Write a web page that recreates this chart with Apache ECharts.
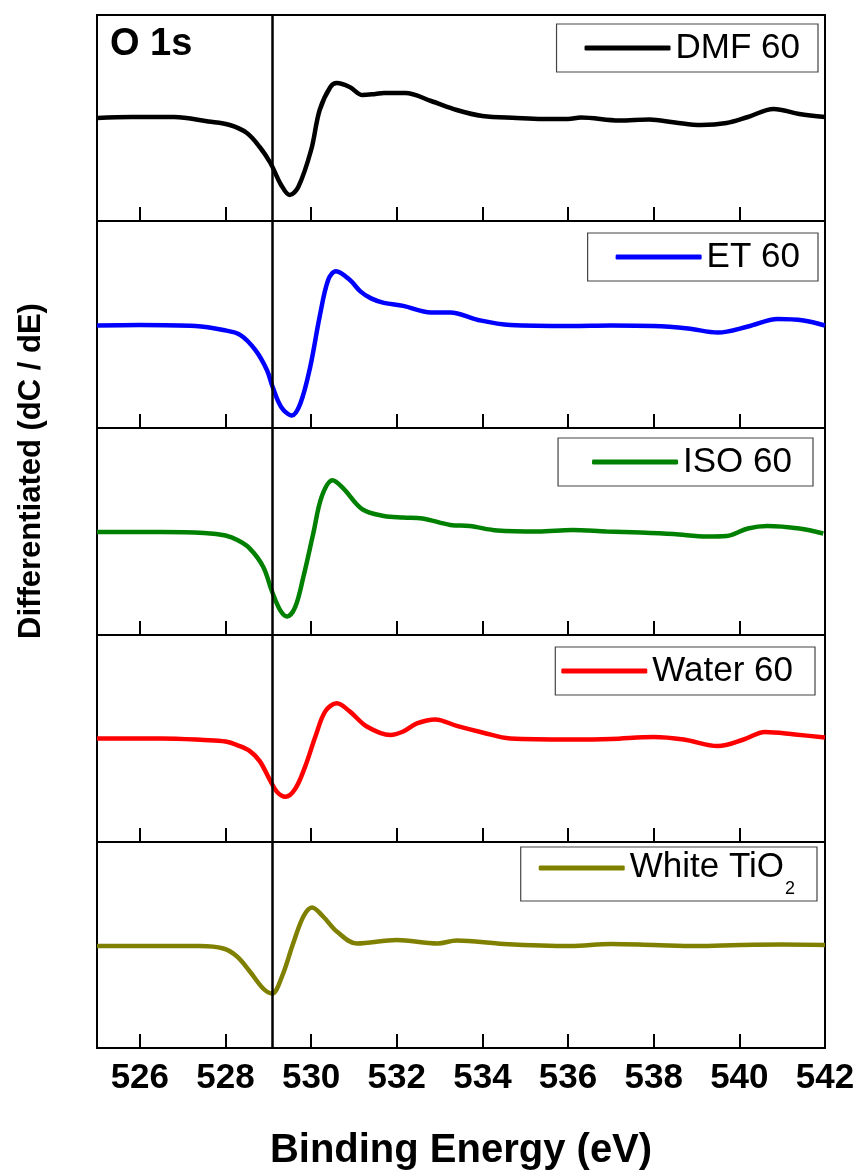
<!DOCTYPE html>
<html>
<head>
<meta charset="utf-8">
<script src="https://cdn.jsdelivr.net/npm/echarts@6/dist/echarts.min.js"></script>
<style>
  html, body { margin: 0; padding: 0; background: #fff; }
  #chart { width: 860px; height: 1174px; }
</style>
</head>
<body>
<div id="chart"></div>
<script>
// O 1s differentiated spectra, [binding energy (eV), dC/dE (a.u.)]
const dmf60 = [
  [525.0, 0], [525.8, 1], [526.8, 1], [527.6, -3.5], [528.1, -7], [528.5, -15],
  [528.8, -29], [529.05, -45], [529.3, -67], [529.5, -77], [529.7, -69], [530.0, -32],
  [530.2, 8], [530.45, 31], [530.6, 35], [530.9, 31], [531.2, 23], [531.5, 24],
  [531.7, 25], [532.2, 25], [532.8, 17], [533.4, 8], [534.0, 2], [534.8, 0],
  [535.4, -1], [536.0, -1], [536.3, 0.5], [537.2, -2.5], [537.9, -1.5], [538.5, -4.5],
  [539.1, -7], [539.7, -5], [540.2, 1], [540.8, 9], [541.4, 4], [542.0, 1]
];
const et60 = [
  [525.0, -1], [526.0, -0.5], [527.3, -1.5], [527.95, -5.5], [528.35, -10.5], [528.7, -25.5],
  [528.97, -45.5], [529.1, -62], [529.3, -82], [529.55, -90.5], [529.75, -78.5], [529.98, -42],
  [530.2, 8], [530.4, 44.5], [530.58, 53], [530.9, 44.5], [531.15, 33], [531.4, 26],
  [531.7, 21.5], [532.15, 18.5], [532.8, 12], [533.25, 12], [533.9, 4.5], [534.65, -0.5],
  [536.05, -1.5], [537.0, -1], [538.0, -1.5], [538.8, -4], [539.5, -8], [540.2, -2],
  [540.9, 5.5], [541.5, 4], [542.0, -1]
];
const iso60 = [
  [525.0, -0.5], [526.5, -0.5], [527.5, -1.5], [528.0, -4], [528.3, -9], [528.57, -17],
  [528.88, -35], [529.09, -60], [529.28, -78.5], [529.44, -84.5], [529.63, -75], [529.82, -45],
  [530.05, -2], [530.25, 35], [530.5, 51], [530.75, 43], [531.2, 22], [531.7, 15.5],
  [532.15, 14], [532.6, 13], [533.25, 6.5], [533.7, 5.5], [534.35, 1], [535.3, 0],
  [536.1, 1.5], [536.9, 0], [537.7, -1], [538.46, -2.5], [539.25, -5], [539.7, -4.5],
  [540.2, 3], [540.65, 5.5], [541.4, 3], [541.96, -2]
];
const water60 = [
  [525.0, 0], [526.5, 0], [527.5, -1.5], [528.0, -3], [528.3, -7], [528.57, -12.5],
  [528.8, -22.5], [529.04, -41.5], [529.2, -53], [529.4, -58], [529.63, -50], [529.86, -28],
  [530.1, 2], [530.33, 27], [530.6, 35], [530.9, 27], [531.3, 12], [531.85, 3.5],
  [532.15, 7], [532.47, 15], [532.9, 19], [533.4, 12.5], [534.0, 6], [534.65, 0],
  [536.05, -1], [537.0, -0.5], [538.0, 1.5], [538.7, -1], [539.5, -7.5], [540.1, -1],
  [540.6, 6.5], [541.3, 4], [542.0, 1]
];
const whiteTiO2 = [
  [525.0, -1], [526.0, -1], [527.4, -1], [527.95, -3.5], [528.27, -11.5], [528.57, -26.5],
  [528.88, -43.5], [529.09, -48.5], [529.32, -31.5], [529.58, 1.5], [529.82, 28.5], [530.02, 37.5],
  [530.28, 28.5], [530.6, 13.5], [531.07, 1.5], [532.0, 5], [532.95, 1.5], [533.4, 4.5],
  [534.5, 1], [536.05, -1], [537.0, 1], [538.0, 0], [539.0, -1], [540.0, 0],
  [541.0, 0.5], [542.0, 0]
];

const seriesNames = ['DMF 60', 'ET 60', 'ISO 60', 'Water 60', 'White TiO2'];
const seriesData = [dmf60, et60, iso60, water60, whiteTiO2];
const seriesColors = ['#000000', '#0000ff', '#008000', '#ff0000', '#808000'];
const tickValues = [526, 528, 530, 532, 534, 536, 538, 540];
const labelValues = [526, 528, 530, 532, 534, 536, 538, 540, 542];
const markerEnergy = 529.1;

const panelTops = [15, 221, 428, 635, 842];
const panelHeights = [206, 207, 207, 207, 206];
const legendTops = [24, 233, 438, 647, 847];
const legendRights = [42, 42, 47, 45, 43];
const legendPads = [[6, 18, 6, 28], [6, 18, 6, 28], [6, 21, 6, 34], [6, 22, 6, 6], [3, 22, 3, 18]];

const font = 'Liberation Sans, Arial, Helvetica, sans-serif';
const chart = echarts.init(document.getElementById('chart'));

const grids = panelTops.map((t, i) => ({
  left: 97, right: 35, top: t, height: panelHeights[i],
  show: true, borderColor: '#000', borderWidth: 2, backgroundColor: '#fff'
}));

const xAxes = panelTops.map((t, i) => ({
  type: 'value', gridIndex: i, min: 525, max: 542, position: 'bottom',
  axisLine: { show: false, onZero: false },
  splitLine: { show: false },
  axisTick: {
    show: true, inside: true, length: 14, customValues: tickValues,
    lineStyle: { color: '#000', width: 2 }
  },
  axisLabel: {
    show: i === 4, customValues: labelValues, margin: 13,
    color: '#000', fontFamily: font, fontWeight: 'bold', fontSize: 35
  },
  name: i === 4 ? 'Binding Energy (eV)' : '',
  nameLocation: 'middle', nameGap: 83,
  nameTextStyle: { color: '#000', fontFamily: font, fontWeight: 'bold', fontSize: 40 }
}));

const yAxes = panelTops.map((t, i) => ({
  type: 'value', gridIndex: i, min: -103, max: 103, show: false
}));

const series = seriesNames.map((name, i) => ({
  name: name, type: 'line', xAxisIndex: i, yAxisIndex: i,
  data: seriesData[i], symbol: 'none', smooth: 0.35,
  lineStyle: { color: seriesColors[i], width: 4.5 },
  itemStyle: { color: seriesColors[i] },
  markLine: {
    silent: true, symbol: ['none', 'none'], label: { show: false },
    lineStyle: { color: '#000', width: 2.5, type: 'solid' },
    data: [{ xAxis: markerEnergy }]
  }
}));

const legends = seriesNames.map((name, i) => ({
  data: [name], right: legendRights[i], top: legendTops[i],
  orient: 'horizontal', icon: 'roundRect', itemWidth: 86, itemHeight: 5, itemGap: 0,
  padding: legendPads[i], borderColor: '#444', borderWidth: 1.2, borderRadius: 0,
  selectedMode: false,
  textStyle: {
    color: '#000', fontFamily: font, fontSize: 35, lineHeight: 36,
    rich: {
      m: { fontFamily: font, fontSize: 35, color: '#000', lineHeight: 36, verticalAlign: 'top' },
      sub: { fontFamily: font, fontSize: 18, color: '#000', lineHeight: 18, verticalAlign: 'top', padding: [30, 0, 0, 1] }
    }
  },
  formatter: n => n === 'White TiO2' ? '{m|White TiO}{sub|2}' : n
}));

chart.setOption({
  animation: false,
  backgroundColor: '#fff',
  title: {
    text: 'O 1s', left: 110, top: 26, padding: 0,
    textStyle: { color: '#000', fontFamily: font, fontWeight: 'bold', fontSize: 38 }
  },
  graphic: [{
    type: 'text', x: 31, y: 471, rotation: Math.PI / 2,
    style: {
      text: 'Differentiated (dC / dE)', fill: '#000',
      font: 'bold 31px ' + font, textAlign: 'center', textVerticalAlign: 'middle'
    }
  }],
  legend: legends,
  grid: grids,
  xAxis: xAxes,
  yAxis: yAxes,
  series: series
});
</script>
</body>
</html>
